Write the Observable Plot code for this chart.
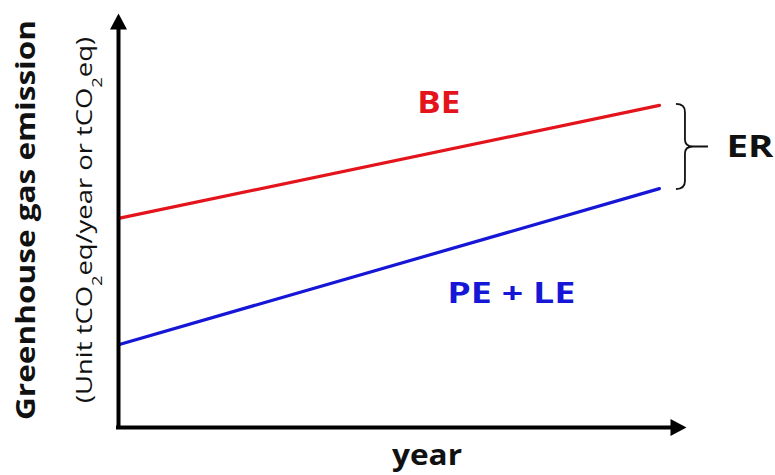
<!DOCTYPE html>
<html><head><meta charset="utf-8">
<script src="https://cdn.jsdelivr.net/npm/d3@7"></script>
<script src="https://cdn.jsdelivr.net/npm/@observablehq/plot@0.6"></script>
<style>
body{margin:0;background:#fff;}
#chart svg{font-family:"Open Sans", Lato, sans-serif;}
</style>
</head><body><div id="chart"></div>
<script>
// ---- data ----
const years = [0, 10];                 // start / end of the period (arbitrary units)
const baselineEmission = [50.5, 77.8]; // BE
const projectEmission = [20.0, 57.7];  // PE + LE
const seriesNames = ["BE", "PE + LE"];
const seriesColors = ["#e3141c", "#1616d6"];
const labelX = [5.92, 7.26];
const labelY = [78.3, 32.4];
const gapLabel = "ER";
const xMax = 10.5, yMax = 100;
const xTitle = "year";
const yTitle = "Greenhouse gas emission";

const rows = [];
years.forEach((t, i) => {
  rows.push({t, v: baselineEmission[i], s: seriesNames[0]});
  rows.push({t, v: projectEmission[i], s: seriesNames[1]});
});
const labels = seriesNames.map((s, i) => ({s, x: labelX[i], y: labelY[i]}));
const endT = years[years.length - 1];
const endTop = baselineEmission[baselineEmission.length - 1];
const endBot = projectEmission[projectEmission.length - 1];

const upArrow = {draw(ctx) { ctx.moveTo(0, 0); ctx.lineTo(8.5, 16); ctx.lineTo(-8.5, 16); ctx.closePath(); }};
const rightArrow = {draw(ctx) { ctx.moveTo(0, 0); ctx.lineTo(-16, -8.5); ctx.lineTo(-16, 8.5); ctx.closePath(); }};

function brace(index, scales) {
  const x0 = scales.x(endT) + 17;
  const y1 = scales.y(endTop) - 1, y2 = scales.y(endBot) + 1;
  const ym = (y1 + y2) / 2;
  const xv = x0 + 9, xt = x0 + 17, xe = x0 + 32;
  const d = `M${x0},${y1} Q${xv},${y1} ${xv},${y1 + 8} L${xv},${ym - 7} Q${xv},${ym} ${xt},${ym} L${xe},${ym} M${xt},${ym} Q${xv},${ym} ${xv},${ym + 7} L${xv},${y2 - 8} Q${xv},${y2} ${x0},${y2}`;
  const p = document.createElementNS("http://www.w3.org/2000/svg", "path");
  p.setAttribute("d", d);
  p.setAttribute("fill", "none");
  p.setAttribute("stroke", "#111");
  p.setAttribute("stroke-width", "1.8");
  return p;
}

const plot = Plot.plot({
  width: 775,
  height: 475,
  marginLeft: 118,
  marginRight: 89,
  marginTop: 13,
  marginBottom: 48,
  x: {domain: [0, xMax], axis: null},
  y: {domain: [0, yMax], axis: null},
  color: {domain: seriesNames, range: seriesColors},
  marks: [
    Plot.line(rows, {x: "t", y: "v", z: "s", stroke: "s", strokeWidth: 3.2}),
    Plot.text(labels, {x: "x", y: "y", text: "s", fill: "s", fontSize: d => d.s === "BE" ? 31 : 29, fontWeight: "bold"}),
    Plot.ruleX([0], {y1: 0, y2: yMax - 3.8, stroke: "black", strokeWidth: 4, strokeLinecap: "square"}),
    Plot.ruleY([0], {x1: 0, x2: xMax - 0.28, stroke: "black", strokeWidth: 4, strokeLinecap: "square"}),
    Plot.dot([0], {x: 0, y: yMax, symbol: upArrow, fill: "black", stroke: null}),
    Plot.dot([0], {x: xMax, y: 0, symbol: rightArrow, fill: "black", stroke: null}),
    brace,
    Plot.text([gapLabel], {x: endT, y: (endTop + endBot) / 2, text: d => d, dx: 67, textAnchor: "start", fontSize: 31, fontWeight: "bold", fill: "#111"})
  ]
});
document.getElementById("chart").appendChild(plot);

// fit labels to the widths seen in the reference
const widths = {"BE": 43, "PE + LE": 128, "ER": 47};
plot.querySelectorAll('g[aria-label="text"] text').forEach(t => {
  const w = widths[t.textContent];
  if (w) { t.setAttribute("textLength", w); t.setAttribute("lengthAdjust", "spacingAndGlyphs"); }
});

const svg = d3.select(plot);
svg.append("text")
  .attr("transform", "translate(35,220) rotate(-90)")
  .attr("text-anchor", "middle")
  .attr("textLength", 400).attr("lengthAdjust", "spacingAndGlyphs")
  .attr("font-size", 27).attr("font-weight", "bold").attr("fill", "#111")
  .text(yTitle);
const sub = svg.append("text")
  .attr("transform", "translate(92,220) rotate(-90)")
  .attr("text-anchor", "middle")
  .attr("textLength", 366).attr("lengthAdjust", "spacingAndGlyphs")
  .attr("font-size", 21).attr("fill", "#111");
sub.append("tspan").text("(Unit tCO");
sub.append("tspan").attr("font-size", 14).attr("baseline-shift", "sub").text("2");
sub.append("tspan").text("eq/year or tCO");
sub.append("tspan").attr("font-size", 14).attr("baseline-shift", "sub").text("2");
sub.append("tspan").text("eq)");
svg.append("text")
  .attr("x", 427).attr("y", 465)
  .attr("text-anchor", "middle")
  .attr("textLength", 70).attr("lengthAdjust", "spacingAndGlyphs")
  .attr("font-size", 29).attr("font-weight", "bold").attr("fill", "#111")
  .text(xTitle);
</script>
</body></html>
